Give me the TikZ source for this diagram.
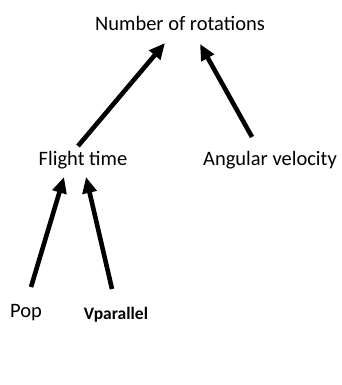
\documentclass[tikz,border=0pt]{standalone}
\usepackage{fontspec}
\setmainfont{Carlito}
\usetikzlibrary{arrows.meta}
\begin{document}
\begin{tikzpicture}[x=1pt,y=-1pt,
  lbl/.style={inner sep=0pt,font=\fontsize{20.5}{24}\selectfont},
  blbl/.style={inner sep=0pt,font=\fontsize{17.5}{20}\selectfont\bfseries},
  arr/.style={line width=4.6pt,-{Triangle[length=16pt,width=14pt]}}]
\useasboundingbox (0,0) rectangle (341,385);
\node[lbl] (nr) at (180,23) {Number of rotations};
\node[lbl] (ft) at (83,160) {Flight time};
\node[lbl] (av) at (270,160) {Angular velocity};
\node[lbl] (pop) at (26,313) {Pop};
\node[blbl] (vp) at (116,315) {Vparallel};
\coordinate (a1s) at (78,146);
\coordinate (a1e) at (165,43);
\coordinate (a2s) at (252,137);
\coordinate (a2e) at (200,44);
\coordinate (a3s) at (31,287);
\coordinate (a3e) at (64,177);
\coordinate (a4s) at (112,289);
\coordinate (a4e) at (86,177);
\draw[arr] (a1s) -- (a1e);
\draw[arr] (a2s) -- (a2e);
\draw[arr] (a3s) -- (a3e);
\draw[arr] (a4s) -- (a4e);
\end{tikzpicture}
\end{document}
